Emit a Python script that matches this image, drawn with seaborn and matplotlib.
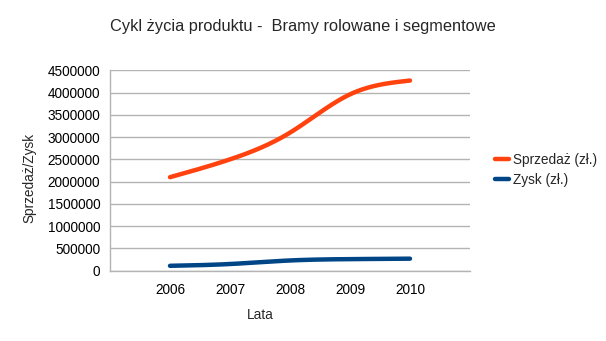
import numpy as np
import pandas as pd
import matplotlib
matplotlib.use("Agg")
import matplotlib.pyplot as plt
import seaborn as sns

years = [2006, 2007, 2008, 2009, 2010]
sprzedaz = [2100000, 2500000, 3100000, 3960000, 4270000]
zysk = [110000, 150000, 230000, 260000, 270000]
series_names = ["Sprzedaż (zł.)", "Zysk (zł.)"]
colors = ["#ff420e", "#004586"]

sns.set_style("white")
plt.rcParams['font.family'] = ['Liberation Sans', 'DejaVu Sans']


def smooth(x, y, n=200):
    # natural cubic spline for display only
    x = np.asarray(x, float)
    y = np.asarray(y, float)
    k = len(x)
    h = np.diff(x)
    A = np.zeros((k, k))
    b = np.zeros(k)
    A[0, 0] = A[-1, -1] = 1
    for i in range(1, k - 1):
        A[i, i - 1] = h[i - 1]
        A[i, i] = 2 * (h[i - 1] + h[i])
        A[i, i + 1] = h[i]
        b[i] = 6 * ((y[i + 1] - y[i]) / h[i] - (y[i] - y[i - 1]) / h[i - 1])
    M = np.linalg.solve(A, b)
    xs = np.linspace(x[0], x[-1], n)
    ys = np.empty_like(xs)
    for j, xv in enumerate(xs):
        i = min(np.searchsorted(x, xv, side='right') - 1, k - 2)
        t1 = x[i + 1] - xv
        t0 = xv - x[i]
        ys[j] = (M[i] * t1 ** 3 + M[i + 1] * t0 ** 3) / (6 * h[i]) \
            + (y[i] / h[i] - M[i] * h[i] / 6) * t1 \
            + (y[i + 1] / h[i] - M[i + 1] * h[i] / 6) * t0
    return xs, ys


frames = []
for name, vals in zip(series_names, [sprzedaz, zysk]):
    xs, ys = smooth(years, vals)
    frames.append(pd.DataFrame({"rok": xs, "wartosc": ys, "seria": name}))
df = pd.concat(frames, ignore_index=True)

fig = plt.figure(figsize=(6.06, 3.41), dpi=100)
ax = fig.add_axes([110 / 606, 1 - 270.7 / 341, 360 / 606, 200.4 / 341])

sns.lineplot(data=df, x="rok", y="wartosc", hue="seria", palette=colors,
             linewidth=3.2, ax=ax, sort=False, estimator=None)

ax.set_xlim(2005, 2011)
ax.set_ylim(0, 4500000)
ax.set_yticks(np.arange(0, 4500001, 500000))
ax.set_yticklabels([f"{int(v)}" for v in np.arange(0, 4500001, 500000)])
ax.set_xticks(range(2005, 2012))
ax.set_xticklabels([""] + [str(y) for y in years] + [""])
ax.yaxis.grid(True, color="#b3b3b3", linewidth=1)
ax.xaxis.grid(False)
ax.set_axisbelow(True)
for s in ["top", "right"]:
    ax.spines[s].set_visible(False)
for s in ["left", "bottom"]:
    ax.spines[s].set_color("#b3b3b3")
    ax.spines[s].set_linewidth(1)
ax.tick_params(axis="both", which="both", direction="out", length=4, width=1,
               color="#b3b3b3", labelsize=9.8, labelcolor="#000000", pad=3)
ax.tick_params(axis="x", pad=5)

ax.set_xlabel("Lata", fontsize=9.8)
ax.set_ylabel("Sprzedaż/Zysk", fontsize=9.8)
ax.xaxis.set_label_coords((260 - 110) / 360, -(315 - 270.7) / 200.4)
ax.xaxis.label.set_va("center")
ax.yaxis.set_label_coords(-(110 - 29) / 360, (270.7 - 178) / 200.4)
ax.yaxis.label.set_va("center")

fig.text(0.5, 1 - 27 / 341, "Cykl życia produktu -  Bramy rolowane i segmentowe",
         ha="center", va="center", fontsize=11.8)

handles, labels = ax.get_legend_handles_labels()
ax.legend(handles, labels, loc="center left", bbox_to_anchor=(490 / 606, 1 - 170 / 341),
          bbox_transform=fig.transFigure, frameon=False, fontsize=9.8,
          handlelength=1.0, handletextpad=0.3, borderaxespad=0, labelspacing=0.45)

fig.savefig("out.png", dpi=100)
